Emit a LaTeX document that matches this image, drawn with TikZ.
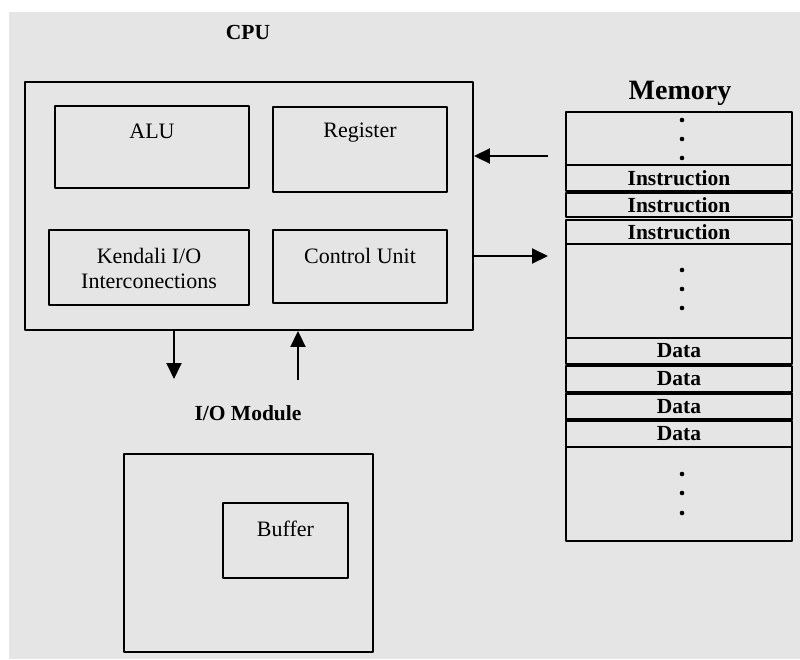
\documentclass[tikz,border=0pt]{standalone}
\usepackage{fontspec}
\setmainfont{Liberation Serif}
\usetikzlibrary{arrows.meta}
\definecolor{paper}{HTML}{E5E5E5}
\tikzset{
  box/.style={draw, line width=1.9pt, rectangle, inner sep=0pt},
  cell/.style={draw, line width=2.4pt, rectangle, inner sep=0pt, minimum width=226pt,
    font=\fontsize{21.5}{23}\selectfont\bfseries},
  txt/.style={font=\fontsize{22}{25}\selectfont, align=center, inner sep=0pt},
  head/.style={font=\fontsize{21.5}{24}\selectfont\bfseries, inner sep=0pt},
  arr/.style={line width=1.9pt, -{Triangle[length=16pt,width=15pt]}},
}
\begin{document}
\begin{tikzpicture}[x=1pt,y=-1pt,line join=round]
\useasboundingbox (0,0) rectangle (800,659);
\fill[paper] (9,12) rectangle (800,659);
% CPU
\node[head] (cput) at (248,32) {CPU};
\node[box, minimum width=448pt, minimum height=248pt] (cpu) at (249,206) {};
\node[box, minimum width=194pt, minimum height=82pt] (alu) at (152,147) {};
\node[txt] (alut) at (152,131) {ALU};
\node[box, minimum width=174pt, minimum height=85pt] (reg) at (360,149.5) {};
\node[txt] (regt) at (360,133) {Register};
\node[box, minimum width=200pt, minimum height=75pt] (io) at (149,267.5) {};
\node[txt] (iot) at (149,268) {Kendali I/O\\Interconections};
\node[box, minimum width=174pt, minimum height=73pt] (cu) at (360,266.5) {};
\node[txt] (cut) at (360,256) {Control Unit};
% I/O module
\node[head] (modt) at (248,413) {I/O Module};
\node[box, minimum width=249pt, minimum height=198pt] (mod) at (248.5,553) {};
\node[box, minimum width=125pt, minimum height=75pt] (buf) at (285.5,540.5) {};
\node[txt] (buft) at (285.5,529) {Buffer};
% Memory
\node[head, font=\fontsize{28}{30}\selectfont\bfseries] (memt) at (680,93) {Memory};
\node[cell, minimum height=53pt] (m0) at (679,138.5) {};
\node[cell, minimum height=26pt] (i1) at (679,178) {Instruction};
\node[cell, minimum height=24pt] (i2) at (679,205) {Instruction};
\node[cell, minimum height=24pt] (i3) at (679,232) {Instruction};
\node[cell, minimum height=94pt] (m1) at (679,291) {};
\foreach \y/\n in {351/d1,379/d2,406.5/d3,434/d4}
  \node[cell, minimum height=26pt] (\n) at (679,\y) {Data};
\node[cell, minimum height=94pt] (m2) at (679,494) {};
\foreach \y in {120,139,158,270,289,308,474,493,513}
  \fill (682,\y) circle (2.3pt);
% connectors
\coordinate (dn) at (174,379);
\coordinate (up) at (298,380);
\draw[arr] (cpu.south -| dn) -- (dn);
\draw[arr] (up) -- (cpu.south -| up);
\coordinate (rd) at (548,156);
\coordinate (wr) at (548,256);
\draw[arr] (rd) -- (rd -| cpu.east);
\draw[arr] (wr -| cpu.east) -- (wr);
\end{tikzpicture}
\end{document}
